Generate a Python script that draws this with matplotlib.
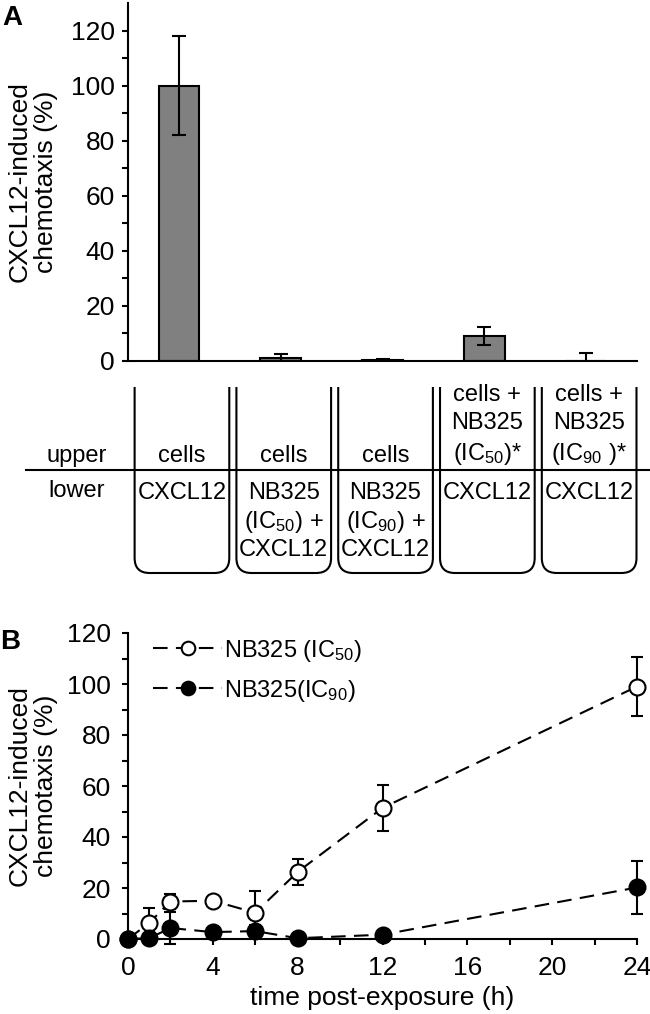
import matplotlib
matplotlib.use("Agg")
import matplotlib.pyplot as plt
import numpy as np
from matplotlib.path import Path
from matplotlib.patches import PathPatch
from matplotlib.ticker import MultipleLocator

plt.rcParams["font.family"] = ["Liberation Sans", "DejaVu Sans"]
plt.rcParams["mathtext.fontset"] = "custom"
plt.rcParams["mathtext.rm"] = "Liberation Sans"
plt.rcParams["mathtext.default"] = "regular"

# panel A: transwell setups
upper_labels = ["cells", "cells", "cells",
                "cells +\nNB325\n(IC$_{50}$)*", "cells +\nNB325\n(IC$_{90}$ )*"]
lower_labels = ["CXCL12", "NB325\n(IC$_{50}$) +\nCXCL12", "NB325\n(IC$_{90}$) +\nCXCL12",
                "CXCL12", "CXCL12"]
chemotaxis_a = [100.0, 1.0, 0.2, 9.0, 0.0]
chemotaxis_a_err = [18.0, 1.4, 0.5, 3.2, 3.0]

# panel B: recovery after exposure
hours = [0, 1, 2, 4, 6, 8, 12, 24]
ic50 = [0.0, 6.3, 14.7, 15.0, 10.3, 26.3, 51.4, 99.0]
ic50_err = [0.0, 6.0, 3.0, 2.0, 8.6, 5.0, 9.0, 11.5]
ic90 = [0.0, 0.3, 4.3, 2.7, 3.1, 0.3, 1.7, 20.2]
ic90_err = [0.0, 0.5, 6.3, 1.5, 2.5, 0.5, 1.0, 10.3]

W, H = 650, 1014
LW = 1.5
FS_TICK = 19
FS_LAB = 19
FS_TUBE = 17


def px_axes(left, top, right, bottom):
    return [left / W, 1 - bottom / H, (right - left) / W, (bottom - top) / H]


def style(ax, pad=6):
    for s in ("top", "right"):
        ax.spines[s].set_visible(False)
    for s in ("left", "bottom"):
        ax.spines[s].set_linewidth(LW)
    ax.tick_params(which="both", direction="out", length=4.5, width=LW,
                   labelsize=FS_TICK, pad=pad)


fig = plt.figure(figsize=(W / 100, H / 100), dpi=100)

# ---- A ----
ax_a = fig.add_axes(px_axes(128, 3, 637, 361))
x = np.arange(len(chemotaxis_a))
ax_a.bar(x, chemotaxis_a, width=0.4, color="#808080", edgecolor="black", linewidth=LW,
         yerr=chemotaxis_a_err, capsize=5,
         error_kw=dict(elinewidth=LW, capthick=LW, ecolor="black"))
ax_a.set_xlim(-0.5, len(x) - 0.5)
ax_a.set_ylim(0, 130)
ax_a.set_yticks(np.arange(0, 121, 20))
ax_a.set_yticks(np.arange(10, 120, 20), minor=True)
ax_a.set_xticks([])
style(ax_a, pad=5)
ax_a.set_ylabel("CXCL12-induced\nchemotaxis (%)", fontsize=FS_LAB, linespacing=1.15)
ax_a.yaxis.set_label_coords((58 - 128) / 509, 0.5)

# tubes under the bars, y in image pixel rows
TOP, BOT, DIV, R = 387, 573, 470, 15
ax_t = fig.add_axes(px_axes(128, TOP - 2, 637, BOT + 2))
ax_t.set_xlim(-0.5, len(x) - 0.5)
ax_t.set_ylim(BOT + 2, TOP - 2)
ax_t.axis("off")
half = 0.465
rx = R / 101.8
for i in x:
    x0, x1 = i - half + 0.03, i + half + 0.03
    verts = [(x0, TOP), (x0, BOT - R), (x0, BOT), (x0 + rx, BOT),
             (x1 - rx, BOT), (x1, BOT), (x1, BOT - R), (x1, TOP)]
    codes = [Path.MOVETO, Path.LINETO, Path.CURVE3, Path.CURVE3,
             Path.LINETO, Path.CURVE3, Path.CURVE3, Path.LINETO]
    ax_t.add_patch(PathPatch(Path(verts, codes), fill=False, lw=LW, ec="black", clip_on=False))
    ax_t.text(i + 0.03, DIV - 3, upper_labels[i], ha="center", va="bottom",
              fontsize=FS_TUBE, linespacing=1.35)
    ax_t.text(i + 0.03, DIV + 12, lower_labels[i], ha="center", va="top",
              fontsize=FS_TUBE, linespacing=1.25)
ax_t.plot([-0.5 - 102 / 101.8, 4.5 + 13 / 101.8], [DIV, DIV], color="black", lw=LW, clip_on=False)
ax_t.text(-1.0, DIV - 3, "upper", ha="center", va="bottom", fontsize=FS_TUBE)
ax_t.text(-1.0, DIV + 10, "lower", ha="center", va="top", fontsize=FS_TUBE)

fig.text(2 / W, 1 - 5 / H, "A", fontsize=20, fontweight="bold", va="top", ha="left")

# ---- B ----
ax_b = fig.add_axes(px_axes(128, 633, 637, 939))
dash = (0, (7, 4))
ax_b.errorbar(hours, ic50, yerr=ic50_err, ls=dash, lw=LW, color="black", marker="o",
              ms=11.5, mfc="white", mec="black", mew=LW, capsize=4, elinewidth=LW,
              capthick=LW, clip_on=False, label="NB325 (IC$_{50}$)")
ax_b.errorbar(hours, ic90, yerr=ic90_err, ls=dash, lw=LW, color="black", marker="o",
              ms=11.5, mfc="black", mec="black", mew=LW, capsize=4, elinewidth=LW,
              capthick=LW, clip_on=False, label="NB325(IC$_{90}$)")
ax_b.set_xlim(0, 24)
ax_b.set_ylim(0, 120)
ax_b.set_xticks([0, 4, 8, 12, 16, 20, 24])
ax_b.xaxis.set_minor_locator(MultipleLocator(2))
ax_b.set_yticks(np.arange(0, 121, 20))
ax_b.yaxis.set_minor_locator(MultipleLocator(10))
style(ax_b, pad=8)
ax_b.set_xlabel("time post-exposure (h)", fontsize=FS_LAB, labelpad=4)
ax_b.set_ylabel("CXCL12-induced\nchemotaxis (%)", fontsize=FS_LAB, linespacing=1.15)
ax_b.yaxis.set_label_coords((58 - 128) / 509, 0.5)
handles, labels = ax_b.get_legend_handles_labels()
handles = [h[0] for h in handles]
ax_b.legend(handles, labels, loc="upper left", bbox_to_anchor=(0.05, 0.985), frameon=False,
            fontsize=17, handlelength=2.9, handletextpad=0.1, labelspacing=0.6,
            borderaxespad=0, borderpad=0, markerscale=0.85)

fig.text(0 / W, 1 - 629 / H, "B", fontsize=20, fontweight="bold", va="top", ha="left")

fig.savefig("out.png", dpi=100)
